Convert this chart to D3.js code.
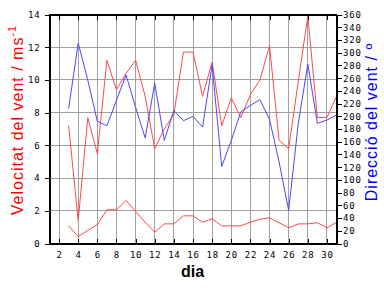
<!DOCTYPE html>
<html>
<head>
    <meta charset="utf-8">
    <script src="https://d3js.org/d3.v7.min.js"></script>
    <style>
        body { margin: 0; background: #fff; }
        .tick text { font-family: "DejaVu Sans Mono", monospace; font-size: 9px; letter-spacing: 0.8px; fill: #000; }
    </style>
</head>
<body>
    <div id="chart"></div>
    <script>
        // dies del mes
        var dies = [3, 4, 5, 6, 7, 8, 9, 10, 11, 12, 13, 14, 15, 16, 17, 18, 19, 20, 21, 22, 23, 24, 25, 26, 27, 28, 29, 30, 31];
        // velocitat maxima (ratxa) m/s
        var velMax = [7.2, 1.4, 7.7, 5.5, 11.2, 9.4, 10.4, 11.2, 9.0, 5.8, 7.0, 7.9, 11.7, 11.7, 9.0, 11.1, 7.2, 8.9, 7.7, 9.1, 10.0, 12.1, 6.3, 5.8, 9.9, 13.9, 7.7, 7.7, 9.0];
        // velocitat mitjana m/s
        var velMitj = [1.08, 0.43, 0.8, 1.16, 2.06, 2.06, 2.63, 1.96, 1.3, 0.69, 1.2, 1.2, 1.69, 1.69, 1.3, 1.51, 1.08, 1.08, 1.08, 1.3, 1.49, 1.57, 1.27, 0.96, 1.2, 1.2, 1.27, 0.96, 1.3];
        // direccio del vent (graus)
        var direccio = [212, 315, 257, 192, 185, 225, 265, 214, 166, 252, 162, 209, 193, 200, 183, 281, 121, 162, 207, 217, 226, 195, 128, 52, 188, 282, 189, 194, 202];

        var xTicks = [2, 4, 6, 8, 10, 12, 14, 16, 18, 20, 22, 24, 26, 28, 30];
        var velTicks = [0, 2, 4, 6, 8, 10, 12, 14];
        var dirTicks = d3.range(0, 361, 20);

        var W = 384, H = 288;
        var mLeft = 49, mTop = 14, pw = 287, ph = 229;

        var svg = d3.select("#chart").append("svg")
            .attr("width", W).attr("height", H)
            .style("display", "block");

        var g = svg.append("g").attr("transform", "translate(" + (mLeft + 0.5) + "," + (mTop + 0.5) + ")");

        var x = d3.scaleLinear().domain([1, 31]).range([0, pw]);
        var yV = d3.scaleLinear().domain([0, 14]).range([ph, 0]);
        var yD = d3.scaleLinear().domain([0, 360]).range([ph, 0]);

        // graella
        g.selectAll(".vgrid").data(xTicks).enter().append("line")
            .attr("x1", function(d){ return Math.round(x(d)); })
            .attr("x2", function(d){ return Math.round(x(d)); })
            .attr("y1", 0).attr("y2", ph)
            .style("stroke", "#a0a0a0").style("stroke-width", 1);
        g.selectAll(".hgrid").data(velTicks.slice(1, -1)).enter().append("line")
            .attr("x1", 0).attr("x2", pw)
            .attr("y1", function(d){ return Math.round(yV(d)); })
            .attr("y2", function(d){ return Math.round(yV(d)); })
            .style("stroke", "#a0a0a0").style("stroke-width", 1);

        // linies
        var lineV = function(arr){
            return d3.line()
                .x(function(d, i){ return x(dies[i]); })
                .y(function(d){ return yV(d); })(arr);
        };
        var lineD = d3.line()
            .x(function(d, i){ return x(dies[i]); })
            .y(function(d){ return yD(d); });

        g.append("path").attr("d", lineV(velMax))
            .style("fill", "none").style("stroke", "#ff4848").style("stroke-width", 1);
        g.append("path").attr("d", lineV(velMitj))
            .style("fill", "none").style("stroke", "#ff4848").style("stroke-width", 1);
        g.append("path").attr("d", lineD(direccio))
            .style("fill", "none").style("stroke", "#4848ff").style("stroke-width", 1);

        // eixos
        var xAxis = d3.axisBottom(x).tickValues(xTicks).tickSizeInner(-5).tickSizeOuter(0).tickPadding(8)
            .tickFormat(d3.format("d"));
        var xTop = d3.axisTop(x).tickValues(xTicks).tickSizeInner(-5).tickSizeOuter(0).tickFormat("");
        var yAxis = d3.axisLeft(yV).tickValues(velTicks).tickSize(5).tickPadding(4).tickFormat(d3.format("d"));
        var yAxis2 = d3.axisRight(yD).tickValues(dirTicks).tickSize(5).tickPadding(1.5).tickFormat(d3.format("d"));

        g.append("g").attr("transform", "translate(0," + ph + ")").call(xAxis);
        g.append("g").call(xTop);
        g.append("g").call(yAxis);
        g.append("g").attr("transform", "translate(" + pw + ",0)").call(yAxis2);
        g.selectAll(".domain, .tick line").style("stroke", "#000").style("shape-rendering", "crispEdges");

        // marc
        g.append("rect").attr("x", 0).attr("y", 0).attr("width", pw).attr("height", ph)
            .style("fill", "none").style("stroke", "#000").style("stroke-width", 1);

        // titols
        var tl = svg.append("text")
            .attr("transform", "translate(23," + 120 + ") rotate(-90)")
            .attr("text-anchor", "middle")
            .style("font-family", "Liberation Sans, Arial, sans-serif")
            .style("font-size", "16px").style("letter-spacing", "1px")
            .style("fill", "#ff0000");
        tl.append("tspan").text("Velocitat del vent / ms");
        tl.append("tspan").attr("dy", -7).style("font-size", "11px").text("-1");

        svg.append("text")
            .attr("transform", "translate(377," + 122 + ") rotate(-90)")
            .attr("text-anchor", "middle")
            .style("font-family", "Liberation Sans, Arial, sans-serif")
            .style("font-size", "16px").style("letter-spacing", "1px")
            .style("fill", "#0000ff")
            .text("Direcció del vent / º");

        svg.append("text")
            .attr("x", mLeft + pw / 2).attr("y", 277)
            .attr("text-anchor", "middle")
            .style("font-family", "Liberation Sans, Arial, sans-serif")
            .style("font-size", "16px").style("font-weight", "bold")
            .text("dia");
    </script>
</body>
</html>
